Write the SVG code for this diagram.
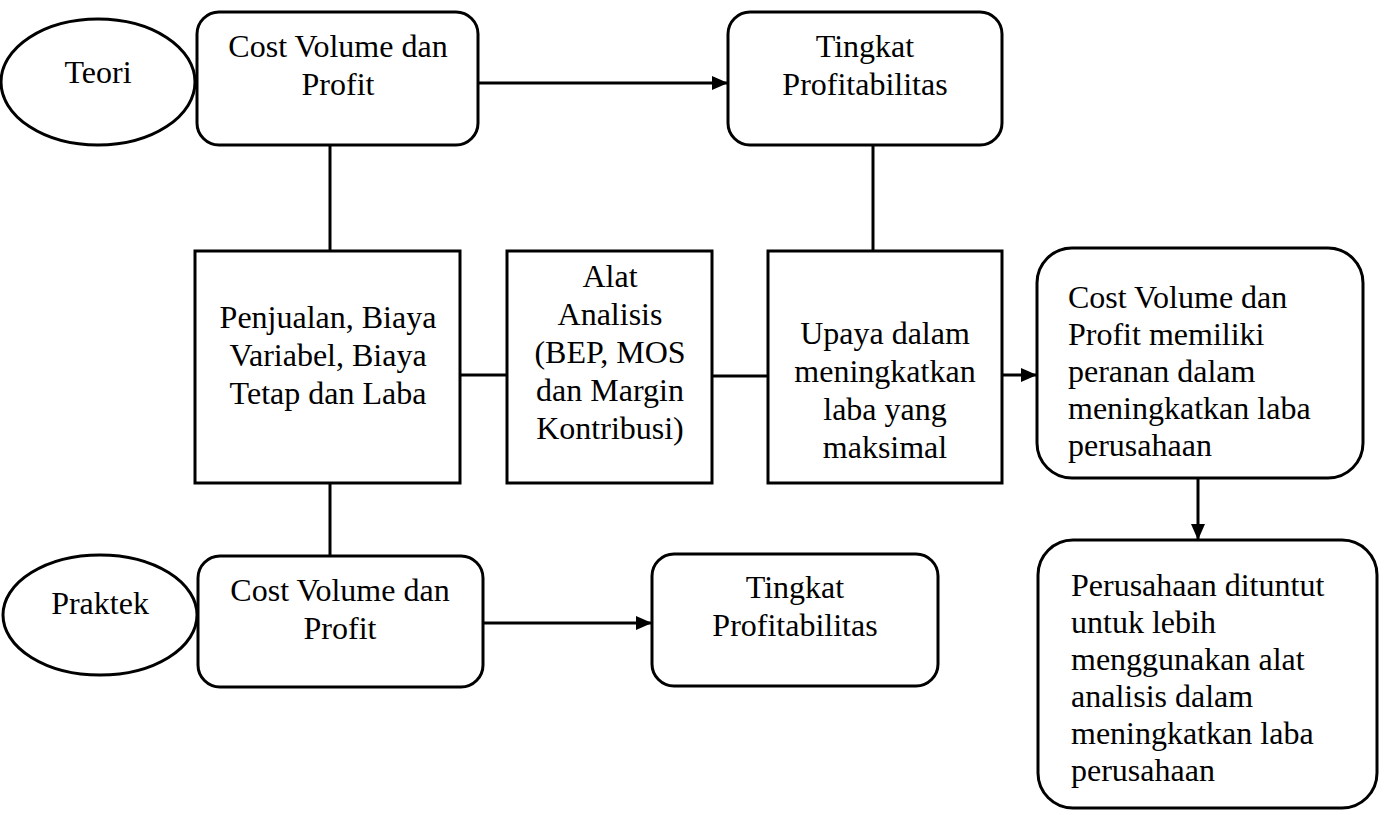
<svg xmlns="http://www.w3.org/2000/svg" width="1386" height="815" viewBox="0 0 1386 815">
<style>
.b{fill:#fff;stroke:#000;stroke-width:3}
.l{fill:none;stroke:#000;stroke-width:3}
.t{font-family:"Liberation Serif","Times New Roman",serif;font-size:32px;fill:#000}
.c{text-anchor:middle}
</style>
<defs>
<marker id="ah" markerUnits="userSpaceOnUse" markerWidth="18" markerHeight="14" refX="16" refY="7" orient="auto">
<path d="M0,0 L16,7 L0,14 Z" fill="#000"/>
</marker>
</defs>
<rect width="1386" height="815" fill="#fff"/>
<g id="connectors">
<line class="l" x1="478" y1="83" x2="728" y2="83" marker-end="url(#ah)"/>
<line class="l" x1="330" y1="145" x2="330" y2="251"/>
<line class="l" x1="873" y1="145" x2="873" y2="251"/>
<line class="l" x1="460" y1="375" x2="507" y2="375"/>
<line class="l" x1="712" y1="376" x2="768" y2="376"/>
<line class="l" x1="1002" y1="375" x2="1037" y2="375" marker-end="url(#ah)"/>
<line class="l" x1="1198" y1="478" x2="1198" y2="540" marker-end="url(#ah)"/>
<line class="l" x1="330" y1="483" x2="330" y2="557"/>
<line class="l" x1="483" y1="623" x2="652" y2="623" marker-end="url(#ah)"/>
</g>
<g id="teori">
<ellipse class="b" cx="98" cy="82" rx="97" ry="63"/>
<text class="t c" x="98" y="83">Teori</text>
</g>
<g id="cvp-teori">
<rect class="b" x="197" y="12" width="281" height="133" rx="22"/>
<text class="t c" x="338" y="57">Cost Volume dan</text>
<text class="t c" x="338" y="95">Profit</text>
</g>
<g id="tingkat-teori">
<rect class="b" x="728" y="12" width="274" height="133" rx="22"/>
<text class="t c" x="865" y="57">Tingkat</text>
<text class="t c" x="865" y="95">Profitabilitas</text>
</g>
<g id="penjualan">
<rect class="b" x="195" y="251" width="265" height="232"/>
<text class="t c" x="328" y="328">Penjualan, Biaya</text>
<text class="t c" x="328" y="366">Variabel, Biaya</text>
<text class="t c" x="328" y="404">Tetap dan Laba</text>
</g>
<g id="alat">
<rect class="b" x="507" y="251" width="205" height="232"/>
<text class="t c" x="610" y="287">Alat</text>
<text class="t c" x="610" y="325">Analisis</text>
<text class="t c" x="610" y="363">(BEP, MOS</text>
<text class="t c" x="610" y="401">dan Margin</text>
<text class="t c" x="610" y="439">Kontribusi)</text>
</g>
<g id="upaya">
<rect class="b" x="768" y="251" width="234" height="232"/>
<text class="t c" x="885" y="344">Upaya dalam</text>
<text class="t c" x="885" y="382">meningkatkan</text>
<text class="t c" x="885" y="420">laba yang</text>
<text class="t c" x="885" y="458">maksimal</text>
</g>
<g id="peranan">
<rect class="b" x="1037" y="248" width="326" height="230" rx="35"/>
<text class="t" x="1068" y="308">Cost Volume dan</text>
<text class="t" x="1068" y="345">Profit memiliki</text>
<text class="t" x="1068" y="382">peranan dalam</text>
<text class="t" x="1068" y="419">meningkatkan laba</text>
<text class="t" x="1068" y="456">perusahaan</text>
</g>
<g id="dituntut">
<rect class="b" x="1038" y="540" width="339" height="268" rx="35"/>
<text class="t" x="1071" y="596">Perusahaan dituntut</text>
<text class="t" x="1071" y="633">untuk lebih</text>
<text class="t" x="1071" y="670">menggunakan alat</text>
<text class="t" x="1071" y="707">analisis dalam</text>
<text class="t" x="1071" y="744">meningkatkan laba</text>
<text class="t" x="1071" y="781">perusahaan</text>
</g>
<g id="praktek">
<ellipse class="b" cx="100" cy="615" rx="97" ry="60"/>
<text class="t c" x="100" y="614">Praktek</text>
</g>
<g id="cvp-praktek">
<rect class="b" x="198" y="556" width="285" height="131" rx="22"/>
<text class="t c" x="340" y="601">Cost Volume dan</text>
<text class="t c" x="340" y="639">Profit</text>
</g>
<g id="tingkat-praktek">
<rect class="b" x="652" y="554" width="286" height="132" rx="22"/>
<text class="t c" x="795" y="598">Tingkat</text>
<text class="t c" x="795" y="636">Profitabilitas</text>
</g>
</svg>
